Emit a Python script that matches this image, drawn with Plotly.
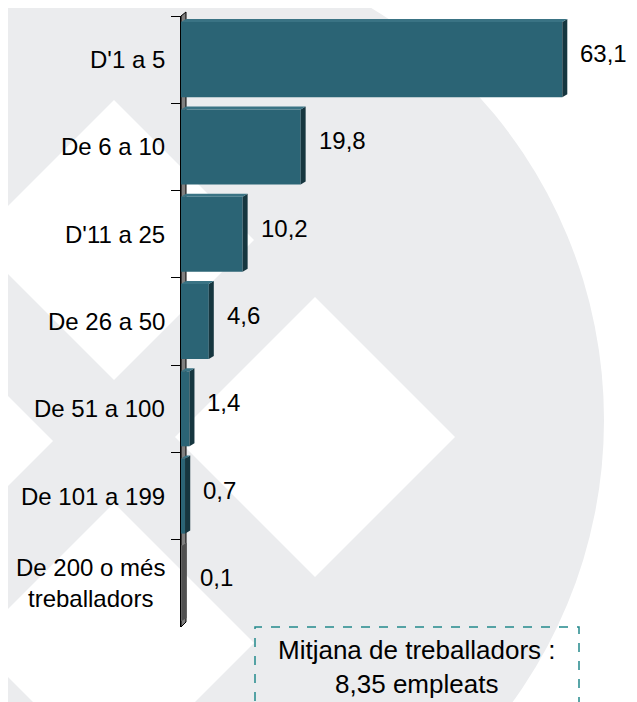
import plotly.graph_objects as go

# ---------------- data ----------------
categories = ["D'1 a 5", "De 6 a 10", "D'11 a 25", "De 26 a 50",
              "De 51 a 100", "De 101 a 199", "De 200 o més treballadors"]
category_labels = ["D'1 a 5", "De 6 a 10", "D'11 a 25", "De 26 a 50",
                   "De 51 a 100", "De 101 a 199", "De 200 o més<br>treballadors"]
values = [63.1, 19.8, 10.2, 4.6, 1.4, 0.7, 0.1]
value_labels = ["63,1", "19,8", "10,2", "4,6", "1,4", "0,7", "0,1"]
note_text = "Mitjana de treballadors :<br>8,35 empleats"

# ---------------- style / layout ----------------
FIG_W, FIG_H = 637, 702
OFF = 8                      # default page body margin of the html page
L, T = 181, 16               # plot-area corner in page pixels
W, H = 423, 611              # plot-area size
ML, MT = L - OFF, T - OFF
MR = FIG_W - ML - W
MB = FIG_H - MT - H
XMAX = 70
BAR_W = 0.86
FONT = "Liberation Sans, Arial, sans-serif"
TEAL = "#2B6475"
TEAL_SIDE = "#16363F"
TEAL_TOP = "#3A7384"
GREY_BAR = "#707070"
GREY_SIDE = "#505050"
BG_GREY = "#EBECEE"

px_per_unit = W / XMAX
cat_px = H / len(categories)
half_h = BAR_W * cat_px / 2
DX, DY = 5, 3  # 3D depth in pixels


def P(x, y):
    """page pixel position -> paper coordinates"""
    return (x - L) / W, 1 - (y - T) / H


shapes = []

# background watermark: grey disc with white diamonds
cx, cy, r = 123, 420, 481
x0, y0 = P(cx - r, cy - r)
x1, y1 = P(cx + r, cy + r)
shapes.append(dict(type="circle", xref="paper", yref="paper", x0=x0, x1=x1, y0=y1, y1=y0,
                   fillcolor=BG_GREY, line=dict(width=0), layer="below"))
for (dx_, dy_) in [(114, 240), (315, 437), (-87, 441), (114, 643)]:
    a = 140
    pts = [P(dx_, dy_ - a), P(dx_ + a, dy_), P(dx_, dy_ + a), P(dx_ - a, dy_)]
    path = "M " + " L ".join(f"{p[0]:.5f},{p[1]:.5f}" for p in pts) + " Z"
    shapes.append(dict(type="path", xref="paper", yref="paper", path=path,
                       fillcolor="white", line=dict(width=0), layer="below"))

# 3D wall behind the category axis
wall = [P(L, T), P(L + DX, T - 4), P(L + DX, T + H - 5), P(L, T + H)]
shapes.append(dict(type="path", xref="paper", yref="paper",
                   path="M " + " L ".join(f"{p[0]:.5f},{p[1]:.5f}" for p in wall) + " Z",
                   fillcolor="#7F7F7F", line=dict(color="black", width=1), layer="below"))

colors = [TEAL] * (len(values) - 1) + [GREY_BAR]
side_colors = [TEAL_SIDE] * (len(values) - 1) + [GREY_SIDE]
top_colors = [TEAL_TOP] * (len(values) - 1) + ["#8A8A8A"]

# 3D side and top faces of each bar
d_units = DX / px_per_unit
for cat, v, sc, tc in zip(categories, values, side_colors, top_colors):
    side = (f"M 0,{-half_h} L {DX},{-half_h + DY} L {DX},{half_h + DY} "
            f"L 0,{half_h} Z")
    shapes.append(dict(type="path", xref="x", yref="y", xsizemode="pixel",
                       ysizemode="pixel", xanchor=v, yanchor=cat, path=side,
                       fillcolor=sc, line=dict(width=0)))
    top = (f"M 0,{half_h} L {d_units},{half_h + DY} L {v + d_units},{half_h + DY} "
           f"L {v},{half_h} Z")
    shapes.append(dict(type="path", xref="x", yref="y", ysizemode="pixel",
                       yanchor=cat, path=top, fillcolor=tc, line=dict(width=0)))

# dashed note box
bx0, by0 = P(255, 627)
bx1, by1 = P(579, 760)
shapes.append(dict(type="rect", xref="paper", yref="paper", x0=bx0, x1=bx1, y0=by1, y1=by0,
                   line=dict(color="#23898C", width=1.5, dash="dash"), fillcolor="rgba(0,0,0,0)"))

annotations = []
for cat, lab in zip(categories, category_labels):
    annotations.append(dict(xref="paper", yref="y", x=0, y=cat, text=lab,
                            xanchor="right", yanchor="middle", xshift=-14, align="center",
                            showarrow=False, font=dict(family=FONT, size=24, color="black")))
for cat, v, lab in zip(categories, values, value_labels):
    annotations.append(dict(xref="x", yref="y", x=v, y=cat, text=lab,
                            xanchor="left", yanchor="middle", xshift=DX + 11, yshift=6,
                            showarrow=False, font=dict(family=FONT, size=24, color="black")))
nx, ny = P(416, 667)
annotations.append(dict(xref="paper", yref="paper", x=nx, y=ny, text=note_text,
                        xanchor="center", yanchor="middle", align="center", showarrow=False,
                        font=dict(family=FONT, size=26, color="black")))

fig = go.Figure(go.Bar(
    x=values, y=categories, orientation="h", width=BAR_W,
    marker=dict(color=colors, line=dict(width=0)),
    hoverinfo="skip",
))

fig.update_layout(
    width=FIG_W, height=FIG_H,
    margin=dict(l=ML, r=MR, t=MT, b=MB, pad=0),
    paper_bgcolor="white", plot_bgcolor="rgba(0,0,0,0)",
    showlegend=False,
    shapes=shapes, annotations=annotations,
    xaxis=dict(range=[0, XMAX], visible=False, fixedrange=True),
    yaxis=dict(autorange="reversed", showline=True, linecolor="black", linewidth=1,
               ticks="outside", ticklen=9, tickcolor="black", tickwidth=1,
               tickson="boundaries", showticklabels=False, showgrid=False,
               zeroline=False, fixedrange=True),
)

fig.write_html("out.html")
